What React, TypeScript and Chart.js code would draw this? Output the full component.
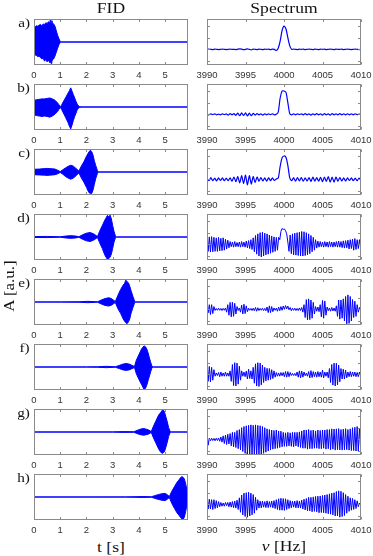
import React, { useEffect, useRef } from "react";
import { Chart, registerables } from "chart.js";

Chart.register(...registerables);

// ---------------- data ----------------
const ROW_LABELS = ["a)", "b)", "c)", "d)", "e)", "f)", "g)", "h)"];
const FID_TICKS = [0, 1, 2, 3, 4, 5];
const FID_T_MAX = 5.87;
const SPEC_TICKS = [3990, 3995, 4000, 4005, 4010];
const SPEC_Y_TICKS = [-0.5, 0, 0.5, 1];
const NU_START = 3990;
const NU_END = 4010;
const SMOOTH_STEP = 0.25;
const OSC_STEP = 0.15;

// FID envelopes (time [s], upper, lower)
const FID_A_T = [0, 0.05, 0.1, 0.15, 0.2, 0.25, 0.3, 0.35, 0.4, 0.45, 0.5, 0.55, 0.6, 0.62, 0.65, 0.68, 0.7, 0.75, 0.8, 0.85, 0.9, 0.95, 1.0, 1.05, 5.87];
const FID_A_UP = [0.62, 0.68, 0.72, 0.7, 0.75, 0.78, 0.72, 0.8, 0.78, 0.85, 0.82, 0.9, 0.85, 0.97, 0.8, 0.95, 0.85, 0.8, 0.7, 0.5, 0.3, 0.15, 0.02, 0, 0];
const FID_A_LO = [-0.55, -0.58, -0.6, -0.65, -0.62, -0.7, -0.75, -0.72, -0.85, -0.78, -0.88, -0.8, -0.92, -0.85, -0.95, -0.88, -0.8, -0.75, -0.62, -0.45, -0.28, -0.12, -0.02, 0, 0];

const FID_B_T = [0, 0.1, 0.2, 0.3, 0.4, 0.5, 0.6, 0.7, 0.8, 0.9, 0.95, 1.0, 1.05, 1.1, 1.2, 1.3, 1.35, 1.4, 1.45, 1.5, 1.55, 1.6, 1.65, 1.72, 1.75, 5.87];
const FID_B_UP = [0.3, 0.32, 0.34, 0.36, 0.36, 0.38, 0.4, 0.36, 0.3, 0.18, 0.1, 0.02, 0.08, 0.2, 0.4, 0.62, 0.72, 0.85, 0.7, 0.55, 0.4, 0.25, 0.12, 0.02, 0, 0];
const FID_B_LO = [-0.35, -0.38, -0.4, -0.42, -0.4, -0.42, -0.45, -0.4, -0.32, -0.2, -0.1, -0.02, -0.1, -0.22, -0.45, -0.7, -0.85, -0.97, -0.8, -0.6, -0.42, -0.28, -0.12, -0.02, 0, 0];

const FID_C_T = [0, 0.2, 0.4, 0.5, 0.6, 0.8, 0.9, 1.0, 1.1, 1.2, 1.3, 1.4, 1.5, 1.6, 1.71, 1.8, 1.9, 2.0, 2.05, 2.1, 2.15, 2.2, 2.25, 2.3, 2.35, 2.42, 2.45, 5.87];
const FID_C_UP = [0.12, 0.13, 0.15, 0.16, 0.15, 0.13, 0.08, 0.02, 0.1, 0.18, 0.25, 0.3, 0.26, 0.16, 0.04, 0.25, 0.45, 0.7, 0.8, 0.9, 0.97, 0.9, 0.75, 0.5, 0.3, 0.05, 0, 0];
const FID_C_LO = [-0.12, -0.13, -0.14, -0.15, -0.14, -0.12, -0.08, -0.02, -0.1, -0.2, -0.27, -0.32, -0.27, -0.17, -0.04, -0.25, -0.45, -0.68, -0.82, -0.92, -0.95, -0.95, -0.8, -0.55, -0.3, -0.05, 0, 0];

const FID_D_T = [0, 0.5, 1.0, 1.2, 1.4, 1.6, 1.71, 1.85, 2.0, 2.15, 2.3, 2.42, 2.5, 2.6, 2.7, 2.75, 2.8, 2.85, 2.9, 2.95, 3.0, 3.05, 3.11, 3.15, 5.87];
const FID_D_UP = [0.02, 0.025, 0.01, 0.04, 0.06, 0.04, 0.01, 0.1, 0.17, 0.2, 0.12, 0.02, 0.25, 0.5, 0.75, 0.85, 0.96, 0.9, 0.97, 0.8, 0.5, 0.25, 0.02, 0, 0];
const FID_D_LO = [-0.02, -0.025, -0.01, -0.04, -0.06, -0.04, -0.01, -0.1, -0.17, -0.2, -0.12, -0.02, -0.25, -0.5, -0.8, -0.9, -1.0, -0.95, -0.9, -0.75, -0.5, -0.22, -0.02, 0, 0];

const FID_E_T = [0, 1.0, 1.71, 2.05, 2.42, 2.55, 2.7, 2.85, 2.95, 3.1, 3.2, 3.3, 3.4, 3.45, 3.5, 3.55, 3.6, 3.65, 3.7, 3.77, 3.84, 3.88, 5.87];
const FID_E_UP = [0, 0.005, 0.01, 0.03, 0.01, 0.08, 0.15, 0.19, 0.15, 0.02, 0.3, 0.55, 0.75, 0.82, 0.97, 0.9, 0.85, 0.7, 0.5, 0.25, 0.02, 0, 0];
const FID_E_LO = [0, -0.005, -0.01, -0.03, -0.01, -0.08, -0.15, -0.18, -0.14, -0.02, -0.3, -0.5, -0.75, -0.85, -0.92, -0.96, -0.88, -0.75, -0.5, -0.25, -0.02, 0, 0];

const FID_F_T = [0, 2.0, 2.42, 2.75, 3.1, 3.25, 3.4, 3.52, 3.65, 3.83, 3.9, 4.0, 4.1, 4.15, 4.2, 4.25, 4.3, 4.35, 4.4, 4.45, 4.5, 4.55, 5.87];
const FID_F_UP = [0, 0.005, 0.01, 0.03, 0.01, 0.07, 0.13, 0.16, 0.12, 0.02, 0.3, 0.55, 0.8, 0.88, 0.93, 0.9, 0.8, 0.62, 0.4, 0.2, 0.02, 0, 0];
const FID_F_LO = [0, -0.005, -0.01, -0.03, -0.01, -0.07, -0.13, -0.15, -0.12, -0.02, -0.3, -0.55, -0.78, -0.9, -1.0, -0.95, -0.8, -0.6, -0.4, -0.2, -0.02, 0, 0];

const FID_G_T = [0, 3.0, 3.45, 3.8, 3.95, 4.1, 4.2, 4.35, 4.47, 4.55, 4.65, 4.75, 4.82, 4.88, 4.92, 4.97, 5.02, 5.08, 5.13, 5.19, 5.23, 5.87];
const FID_G_UP = [0, 0.005, 0.02, 0.01, 0.08, 0.14, 0.15, 0.1, 0.02, 0.25, 0.5, 0.75, 0.85, 0.95, 1.0, 0.9, 0.7, 0.45, 0.2, 0.02, 0, 0];
const FID_G_LO = [0, -0.005, -0.02, -0.01, -0.08, -0.13, -0.14, -0.1, -0.02, -0.25, -0.5, -0.75, -0.88, -0.95, -0.92, -0.88, -0.7, -0.45, -0.2, -0.02, 0, 0];

const FID_H_T = [0, 3.5, 4.15, 4.47, 4.6, 4.75, 4.9, 5.0, 5.08, 5.16, 5.25, 5.35, 5.45, 5.52, 5.58, 5.63, 5.68, 5.73, 5.78, 5.83, 5.87];
const FID_H_UP = [0, 0.005, 0.02, 0.01, 0.06, 0.11, 0.15, 0.16, 0.1, 0.02, 0.25, 0.45, 0.65, 0.75, 0.85, 0.9, 0.88, 0.8, 0.6, 0.3, 0.02];
const FID_H_LO = [0, -0.005, -0.02, -0.01, -0.06, -0.11, -0.15, -0.16, -0.1, -0.02, -0.28, -0.5, -0.7, -0.8, -0.9, -0.97, -1.0, -0.9, -0.65, -0.35, -0.02];

// Spectra a-c: samples every SMOOTH_STEP Hz from 3990
const SPEC_A = [
  0, 0.01, 0, -0.01, 0.01, 0, -0.01, 0, 0.01, 0, -0.01, 0, 0.01, 0, 0, -0.01, 0.01, 0.02, 0.01, -0.01,
  0, 0.02, 0, -0.02, 0.01, 0, -0.01, 0.01, 0, -0.01, 0.01, 0, 0.01, -0.01, 0.01, 0, -0.05, 0.05, 0.35, 0.8,
  1.0, 0.88, 0.5, 0.15, 0.0, 0.01, 0, -0.01, 0.01, 0, 0.01, -0.01, 0, 0.01, 0, -0.01, 0.01, 0, -0.01, 0.01,
  0, 0.01, -0.01, 0, 0.01, 0, -0.01, 0.01, 0, 0, 0.01, -0.01, 0, 0.01, 0, -0.01, 0, 0.01, 0, -0.01, 0,
];
const SPEC_B = [
  0.01, -0.02, 0.02, -0.01, 0.02, -0.02, 0.01, -0.02, 0.02, -0.01, 0.02, -0.03, 0.03, -0.02, 0.03, -0.04, 0.05, -0.06, 0.06, -0.05,
  0.06, -0.07, 0.05, -0.06, 0.04, -0.03, 0.03, -0.02, 0.02, -0.03, 0.02, -0.02, 0.02, -0.01, 0.02, -0.02, 0, 0.1, 0.7, 1.0,
  1.0, 0.95, 0.5, 0.03, -0.02, 0.02, -0.02, 0.02, -0.01, 0.02, -0.02, 0.03, -0.02, 0.02, -0.03, 0.02, -0.02, 0.03, -0.02, 0.02,
  -0.03, 0.03, -0.02, 0.02, -0.03, 0.03, -0.02, 0.02, -0.02, 0.03, -0.02, 0.02, -0.02, 0.02, -0.02, 0.02, -0.02, 0.02, -0.01, 0.01, 0,
];
const SPEC_C = [
  0.04, -0.06, 0.07, -0.06, 0.05, -0.07, 0.06, -0.05, 0.06, -0.06, 0.05, -0.06, 0.06, -0.08, 0.1, -0.1, 0.12, -0.15, 0.16, -0.18,
  0.18, -0.24, 0.16, -0.2, 0.12, -0.14, 0.1, -0.08, 0.08, -0.07, 0.06, -0.08, 0.07, -0.06, 0.06, -0.05, 0.02, 0.05, 0.55, 0.92,
  1.0, 0.95, 0.6, 0.06, -0.06, 0.07, -0.08, 0.08, -0.07, 0.08, -0.08, 0.06, -0.07, 0.08, -0.09, 0.1, -0.08, 0.07, -0.08, 0.09,
  -0.1, 0.1, -0.09, 0.12, -0.12, 0.1, -0.12, 0.1, -0.08, 0.08, -0.07, 0.06, -0.07, 0.06, -0.05, 0.06, -0.06, 0.05, -0.06, 0.05, -0.04,
];

// Spectra d-h: samples every OSC_STEP Hz from 3990
const SPEC_D = [
  0.25, -0.3, 0.32, -0.33, 0.33, -0.32, 0.3, -0.3, 0.28, -0.3, 0.3, -0.28, 0.26, -0.27, 0.28, -0.25, 0.22, -0.2, 0.18, -0.15,
  0.12, -0.1, 0.1, -0.12, 0.12, -0.1, 0.08, -0.1, 0.1, -0.12, 0.12, -0.1, 0.1, -0.12, 0.14, -0.15, 0.16, -0.18, 0.2, -0.22,
  0.28, -0.32, 0.38, -0.42, 0.45, -0.5, 0.5, -0.54, 0.52, -0.5, 0.48, -0.45, 0.45, -0.42, 0.4, -0.38, 0.36, -0.34, 0.32, -0.3,
  0.3, -0.25, 0.3, 0.2, 0.55, 0.68, 0.64, 0.66, 0.58, 0.45, 0.1, -0.3, 0.4, -0.4, 0.45, -0.45, 0.48, -0.46, 0.5, -0.48,
  0.52, -0.5, 0.55, -0.5, 0.54, -0.48, 0.5, -0.45, 0.45, -0.4, 0.38, -0.32, 0.3, -0.25, 0.2, -0.16, 0.14, -0.12, 0.12, -0.1,
  0.1, -0.12, 0.12, -0.1, 0.1, -0.12, 0.12, -0.1, 0.1, -0.12, 0.1, -0.1, 0.12, -0.12, 0.14, -0.12, 0.12, -0.14, 0.15, -0.16,
  0.16, -0.15, 0.18, -0.2, 0.2, -0.18, 0.22, -0.25, 0.25, -0.22, 0.2, -0.18, 0.2, -0.15,
];
const SPEC_E = [
  0.05, -0.15, 0.2, -0.22, 0.2, -0.18, 0.12, -0.05, 0.04, -0.04, 0.05, -0.04, 0.04, -0.05, 0.04, -0.04, 0.06, -0.12, 0.2, -0.25,
  0.3, -0.32, 0.3, -0.3, 0.26, -0.2, 0.12, -0.05, 0.06, -0.12, 0.18, -0.2, 0.22, -0.18, 0.15, -0.1, 0.05, -0.04, 0.04, -0.05,
  0.05, -0.06, 0.08, -0.08, 0.07, -0.05, 0.04, -0.04, 0.05, -0.05, 0.04, -0.06, 0.1, -0.14, 0.15, -0.14, 0.12, -0.1, 0.06, -0.04,
  0.05, -0.08, 0.1, -0.06, 0.12, -0.04, 0.14, 0.0, 0.16, 0.02, 0.14, -0.02, 0.08, -0.06, 0.05, -0.04, 0.05, -0.05, 0.04, -0.05,
  0.06, -0.05, 0.08, -0.12, 0.2, -0.35, 0.42, -0.45, 0.45, -0.44, 0.4, -0.38, 0.3, -0.2, 0.12, -0.08, 0.1, -0.1, 0.2, -0.32,
  0.38, -0.38, 0.36, -0.25, 0.1, -0.06, 0.06, -0.08, 0.08, -0.07, 0.06, -0.08, 0.15, -0.3, 0.4, -0.42, 0.4, -0.38, 0.45, -0.5,
  0.55, -0.62, 0.62, -0.6, 0.55, -0.5, 0.42, -0.35, 0.35, -0.3, 0.2, -0.12, 0.08, -0.05,
];
const SPEC_F = [
  0.15, -0.3, 0.34, -0.32, 0.3, -0.25, 0.2, -0.08, 0.06, -0.05, 0.08, -0.1, 0.1, -0.08, 0.06, -0.08, 0.1, -0.08, 0.06, -0.08,
  0.15, -0.3, 0.42, -0.48, 0.5, -0.5, 0.48, -0.42, 0.35, -0.25, 0.15, -0.08, 0.1, -0.1, 0.14, -0.2, 0.22, -0.18, 0.15, -0.2,
  0.3, -0.38, 0.45, -0.5, 0.5, -0.52, 0.48, -0.45, 0.4, -0.35, 0.3, -0.28, 0.26, -0.25, 0.25, -0.22, 0.2, -0.18, 0.15, -0.12,
  0.08, -0.08, 0.06, -0.08, 0.08, -0.06, 0.08, -0.1, 0.12, -0.12, 0.12, -0.1, 0.08, -0.05, 0.04, -0.05, 0.04, -0.06, 0.1, -0.12,
  0.15, -0.15, 0.14, -0.12, 0.1, -0.06, 0.05, -0.08, 0.12, -0.15, 0.16, -0.14, 0.12, -0.1, 0.1, -0.12, 0.12, -0.1, 0.1, -0.12,
  0.18, -0.15, 0.1, -0.08, 0.1, -0.15, 0.25, -0.35, 0.42, -0.46, 0.48, -0.5, 0.48, -0.45, 0.4, -0.32, 0.25, -0.2, 0.22, -0.2,
  0.18, -0.15, 0.1, -0.1, 0.12, -0.1, 0.1, -0.08, 0.1, -0.1, 0.08, -0.1, 0.1, -0.08,
];
const SPEC_G = [
  0.3, -0.25, 0.05, -0.06, 0.05, -0.05, 0.04, -0.06, 0.05, -0.05, 0.06, -0.08, 0.1, -0.12, 0.15, -0.18, 0.18, -0.22, 0.22, -0.2,
  0.25, -0.28, 0.3, -0.32, 0.3, -0.35, 0.38, -0.4, 0.42, -0.45, 0.5, -0.52, 0.55, -0.6, 0.58, -0.62, 0.6, -0.65, 0.62, -0.68,
  0.6, -0.7, 0.62, -0.75, 0.6, -0.72, 0.58, -0.68, 0.55, -0.6, 0.5, -0.55, 0.45, -0.5, 0.42, -0.45, 0.4, -0.42, 0.38, -0.4,
  0.4, -0.38, 0.36, -0.35, 0.35, -0.32, 0.3, -0.3, 0.28, -0.3, 0.3, -0.28, 0.28, -0.3, 0.3, -0.32, 0.3, -0.28, 0.3, -0.32,
  0.32, -0.35, 0.36, -0.38, 0.4, -0.38, 0.4, -0.42, 0.42, -0.4, 0.38, -0.4, 0.4, -0.38, 0.36, -0.38, 0.4, -0.4, 0.38, -0.4,
  0.4, -0.38, 0.4, -0.42, 0.42, -0.4, 0.42, -0.45, 0.45, -0.42, 0.44, -0.46, 0.45, -0.44, 0.46, -0.45, 0.42, -0.46, 0.44, -0.45,
  0.46, -0.44, 0.42, -0.46, 0.45, -0.48, 0.5, -0.48, 0.52, -0.5, 0.55, -0.5, 0.48, -0.4,
];
const SPEC_H = [
  0.2, -0.2, 0.22, -0.2, 0.2, -0.22, 0.2, -0.18, 0.16, -0.15, 0.12, -0.1, 0.08, -0.08, 0.06, -0.08, 0.08, -0.06, 0.08, -0.1,
  0.1, -0.12, 0.12, -0.14, 0.14, -0.16, 0.18, -0.22, 0.28, -0.34, 0.4, -0.45, 0.48, -0.52, 0.5, -0.55, 0.52, -0.5, 0.48, -0.45,
  0.42, -0.38, 0.3, -0.25, 0.2, -0.16, 0.14, -0.15, 0.14, -0.12, 0.12, -0.14, 0.15, -0.14, 0.12, -0.12, 0.14, -0.15, 0.16, -0.18,
  0.2, -0.22, 0.24, -0.25, 0.26, -0.25, 0.25, -0.26, 0.24, -0.22, 0.2, -0.18, 0.16, -0.15, 0.14, -0.12, 0.14, -0.15, 0.16, -0.15,
  0.14, -0.16, 0.18, -0.2, 0.22, -0.24, 0.25, -0.28, 0.3, -0.28, 0.3, -0.32, 0.32, -0.3, 0.34, -0.32, 0.35, -0.36, 0.36, -0.35,
  0.38, -0.36, 0.4, -0.38, 0.42, -0.4, 0.45, -0.42, 0.48, -0.45, 0.5, -0.5, 0.55, -0.5, 0.58, -0.55, 0.56, -0.52, 0.5, -0.48,
  0.42, -0.38, 0.35, -0.3, 0.28, -0.25, 0.25, -0.22, 0.2, -0.18, 0.15, -0.1, 0.06, -0.02,
];

const FID_ROWS = [
  [FID_A_T, FID_A_UP, FID_A_LO],
  [FID_B_T, FID_B_UP, FID_B_LO],
  [FID_C_T, FID_C_UP, FID_C_LO],
  [FID_D_T, FID_D_UP, FID_D_LO],
  [FID_E_T, FID_E_UP, FID_E_LO],
  [FID_F_T, FID_F_UP, FID_F_LO],
  [FID_G_T, FID_G_UP, FID_G_LO],
  [FID_H_T, FID_H_UP, FID_H_LO],
];
const SPEC_ROWS: [number[], number][] = [
  [SPEC_A, SMOOTH_STEP],
  [SPEC_B, SMOOTH_STEP],
  [SPEC_C, SMOOTH_STEP],
  [SPEC_D, OSC_STEP],
  [SPEC_E, OSC_STEP],
  [SPEC_F, OSC_STEP],
  [SPEC_G, OSC_STEP],
  [SPEC_H, OSC_STEP],
];

// ---------------- layout & style ----------------
const W = 373;
const H = 556;
const ROW_TOP0 = 19;
const ROW_STEP = 65;
const PANEL_H = 46;
const FID_LEFT = 34;
const FID_RIGHT = 188;
const SPEC_LEFT = 207;
const SPEC_RIGHT = 361;
const PAD_L = 20;
const PAD_R = 20;
const PAD_T = 3;
const AXIS_H = 16;
const BLUE = "#0000ff";
const FRAME = "#8a8a8a";
const SERIF = "'Liberation Serif', 'Times New Roman', serif";
const SANS = "'Liberation Sans', Arial, Helvetica, sans-serif";
const STRETCH = 1.17;

function makeFramePlugin(yTicks: number[]) {
  return {
    id: "frame",
    afterDraw(chart: any) {
      const { ctx, chartArea: a, scales } = chart;
      ctx.save();
      ctx.strokeStyle = FRAME;
      ctx.lineWidth = 1;
      const l = Math.round(a.left) + 0.5;
      const r = Math.round(a.right) - 0.5;
      const t = Math.round(a.top) + 0.5;
      const b = Math.round(a.bottom) - 0.5;
      ctx.strokeRect(l, t, r - l, b - t);
      const seg = (x1: number, y1: number, x2: number, y2: number) => {
        ctx.beginPath();
        ctx.moveTo(x1, y1);
        ctx.lineTo(x2, y2);
        ctx.stroke();
      };
      for (const tk of scales.x.ticks) {
        const px = Math.round(scales.x.getPixelForValue(tk.value)) + 0.5;
        seg(px, b, px, b - 2.5);
        seg(px, t, px, t + 2.5);
      }
      for (const v of yTicks) {
        const py = Math.round(scales.y.getPixelForValue(v)) + 0.5;
        seg(l, py, l + 2.5, py);
        seg(r, py, r - 2.5, py);
      }
      ctx.restore();
    },
  };
}

function baseOptions(xMin: number, xMax: number, xTicks: number[], yMin: number, yMax: number) {
  return {
    animation: false,
    responsive: false,
    maintainAspectRatio: false,
    events: [],
    layout: { padding: { left: PAD_L, right: PAD_R, top: PAD_T, bottom: 0 } },
    plugins: { legend: { display: false }, tooltip: { enabled: false } },
    elements: { point: { radius: 0 } },
    scales: {
      x: {
        type: "linear",
        min: xMin,
        max: xMax,
        grid: { display: false, drawTicks: false },
        border: { display: false },
        afterBuildTicks: (s: any) => {
          s.ticks = xTicks.map((v) => ({ value: v }));
        },
        afterFit: (s: any) => {
          s.height = AXIS_H;
        },
        ticks: {
          autoSkip: false,
          maxRotation: 0,
          minRotation: 0,
          padding: 5,
          color: "#333333",
          font: { family: SANS, size: 9.5 },
          callback: (v: any) => String(v),
        },
      },
      y: { type: "linear", display: false, min: yMin, max: yMax },
    },
  };
}

function fidConfig(row: number) {
  const [T, UP, LO] = FID_ROWS[row];
  return {
    type: "line",
    data: {
      datasets: [
        { data: T.map((t, i) => ({ x: t, y: UP[i] })), borderColor: BLUE, borderWidth: 1, fill: false, pointRadius: 0, tension: 0 },
        { data: T.map((t, i) => ({ x: t, y: LO[i] })), borderColor: BLUE, borderWidth: 1, fill: "-1", backgroundColor: BLUE, pointRadius: 0, tension: 0 },
      ],
    },
    options: baseOptions(0, FID_T_MAX, FID_TICKS, -1.02, 1.02),
    plugins: [makeFramePlugin([])],
  };
}

function specConfig(row: number) {
  const [vals, step] = SPEC_ROWS[row];
  const smooth = step === SMOOTH_STEP;
  return {
    type: "line",
    data: {
      datasets: [
        {
          data: vals.map((v, i) => ({ x: NU_START + i * step, y: v })),
          borderColor: BLUE,
          borderWidth: smooth ? 1.2 : 1,
          fill: false,
          pointRadius: 0,
          tension: smooth ? 0.25 : 0,
        },
      ],
    },
    options: baseOptions(NU_START, NU_END, SPEC_TICKS, -0.67, 1.3),
    plugins: [makeFramePlugin(SPEC_Y_TICKS)],
  };
}

function Panel({ kind, row }: { kind: "fid" | "spec"; row: number }) {
  const ref = useRef<HTMLCanvasElement | null>(null);
  const left = kind === "fid" ? FID_LEFT : SPEC_LEFT;
  const width = kind === "fid" ? FID_RIGHT - FID_LEFT : SPEC_RIGHT - SPEC_LEFT;
  const top = ROW_TOP0 + row * ROW_STEP;
  const cw = width + PAD_L + PAD_R;
  const ch = PAD_T + PANEL_H + AXIS_H;
  useEffect(() => {
    if (!ref.current) return;
    const cfg: any = kind === "fid" ? fidConfig(row) : specConfig(row);
    const chart = new Chart(ref.current, cfg);
    return () => chart.destroy();
  }, [kind, row]);
  return (
    <canvas
      ref={ref}
      width={cw}
      height={ch}
      style={{ position: "absolute", left: left - PAD_L, top: top - PAD_T, width: cw, height: ch }}
    />
  );
}

function Label({ x, y, size, children, rotate }: { x: number; y: number; size: number; children: any; rotate?: boolean }) {
  return (
    <div
      style={{
        position: "absolute",
        left: x,
        top: y,
        fontFamily: SERIF,
        fontSize: size,
        lineHeight: 1,
        color: "#111",
        whiteSpace: "nowrap",
        transform: `translate(-50%, -50%)${rotate ? " rotate(-90deg)" : ""} scaleX(${STRETCH})`,
      }}
    >
      {children}
    </div>
  );
}

export default function App() {
  return (
    <div style={{ position: "fixed", left: 0, top: 0, width: W, height: H, background: "#fff", overflow: "hidden" }}>
      {ROW_LABELS.map((_, i) => (
        <React.Fragment key={i}>
          <Panel kind="fid" row={i} />
          <Panel kind="spec" row={i} />
        </React.Fragment>
      ))}
      {ROW_LABELS.map((lab, i) => (
        <div
          key={"l" + i}
          style={{
            position: "absolute",
            right: W - 30,
            top: ROW_TOP0 + i * ROW_STEP + 3,
            fontFamily: SERIF,
            fontSize: 13,
            lineHeight: 1,
            color: "#111",
            whiteSpace: "nowrap",
            transformOrigin: "right center",
            transform: `translateY(-50%) scaleX(${STRETCH})`,
          }}
        >
          {lab}
        </div>
      ))}
      <Label x={(FID_LEFT + FID_RIGHT) / 2} y={7.5} size={15}>FID</Label>
      <Label x={(SPEC_LEFT + SPEC_RIGHT) / 2} y={7.5} size={15}>Spectrum</Label>
      <Label x={9} y={286} size={14.5} rotate>A [a.u.]</Label>
      <Label x={(FID_LEFT + FID_RIGHT) / 2} y={547} size={15}>t [s]</Label>
      <Label x={(SPEC_LEFT + SPEC_RIGHT) / 2} y={546} size={15}>
        <i>ν</i> [Hz]
      </Label>
    </div>
  );
}
